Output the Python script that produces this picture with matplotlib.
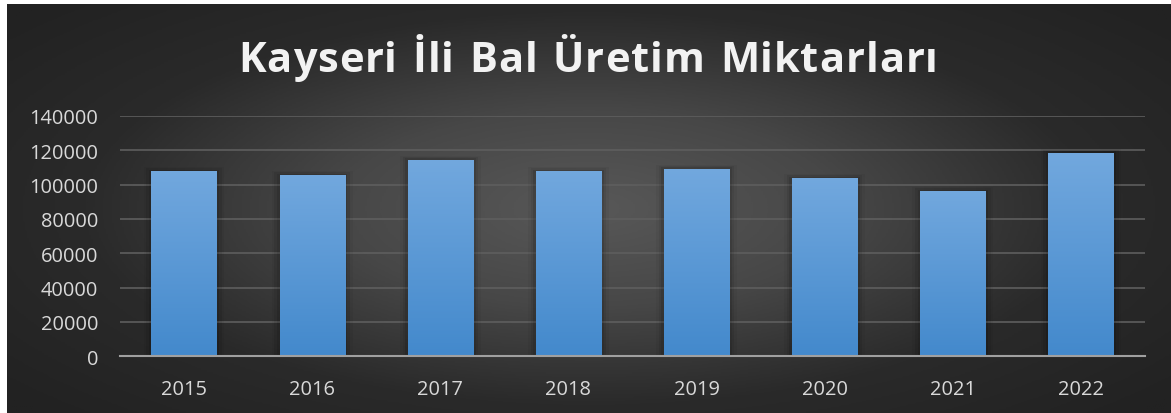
import numpy as np
import matplotlib.pyplot as plt
from matplotlib.colors import LinearSegmentedColormap

# --- Veriler ---
years = ["2015", "2016", "2017", "2018", "2019", "2020", "2021", "2022"]
honey = [108000, 105700, 114500, 108000, 109200, 103900, 96300, 118600]
y_ticks = [0, 20000, 40000, 60000, 80000, 100000, 120000, 140000]
title = "Kayseri İli Bal Üretim Miktarları"

W, H = 1171, 414
fig = plt.figure(figsize=(W / 100, H / 100), dpi=100)
fig.patch.set_facecolor("white")

# radial gradient background (white strip on top/left like the screenshot)
bg = fig.add_axes([7 / W, 0, 1 - 7 / W, 1 - 5 / H])
bg.set_axis_off()
xx, yy = np.meshgrid(np.linspace(-1, 1, 600), np.linspace(-1, 1, 220))
r = np.clip(np.sqrt(xx ** 2 + (yy * 0.9) ** 2), 0, 1.3)
bg_cmap = LinearSegmentedColormap.from_list("bg", ["#585858", "#474747", "#2a2a2a", "#222222"])
bg.imshow(r, cmap=bg_cmap, vmin=0, vmax=1.3, aspect="auto", extent=[0, 1, 0, 1])

ax = fig.add_axes([120 / W, 1 - 357.3 / H, (1145 - 120) / W, (357.3 - 117) / H])
ax.set_facecolor("none")
x = np.arange(len(years))
bars = ax.bar(x, honey, width=0.51, color="#5b9bd5", zorder=3)

# gradient fill + soft shadow for bars
grad = np.linspace(0, 1, 256).reshape(-1, 1)
bar_cmap = LinearSegmentedColormap.from_list("bar", ["#4389cc", "#72a8de"])
for b in bars:
    bx, bw, bh = b.get_x(), b.get_width(), b.get_height()
    for k, a in enumerate([0.10, 0.07, 0.04]):
        d = 0.02 * (k + 1)
        ax.add_patch(plt.Rectangle((bx - d, 0), bw + 2 * d, bh + 800 * (k + 1),
                                   color="black", alpha=a, zorder=2, lw=0))
    im = ax.imshow(grad, cmap=bar_cmap, aspect="auto", origin="lower",
                   extent=[bx, bx + bw, 0, bh], zorder=3)
    im.set_clip_path(b)

ax.set_xlim(-0.5, len(years) - 0.5)
ax.set_ylim(0, 140000)
ax.set_yticks(y_ticks)
ax.set_yticklabels([str(t) for t in y_ticks])
ax.set_xticks(x)
ax.set_xticklabels(years)
ax.grid(axis="y", color="#5e5e5e", lw=1.2, zorder=1)
for s in ["top", "right", "left"]:
    ax.spines[s].set_visible(False)
ax.spines["bottom"].set_color("#a0a0a0")
ax.spines["bottom"].set_linewidth(1.5)
ax.spines["bottom"].set_zorder(4)
ax.tick_params(length=0, colors="#d9d9d9", labelsize=14.4)
ax.tick_params(axis="x", pad=16.5)
ax.tick_params(axis="y", pad=15.8)
for lab in ax.get_xticklabels() + ax.get_yticklabels():
    lab.set_fontfamily("Open Sans")

# title with letter spacing: place characters one by one
renderer = fig.canvas.get_renderer()
title_kw = dict(color="#f2f2f2", fontsize=30, fontweight="bold", family="Open Sans",
                va="baseline", ha="left")
widths = []
for ch in title:
    t = fig.text(0, 0, ch if ch != " " else "n", **title_kw)
    w = t.get_window_extent(renderer).width
    if ch == " ":
        w *= 0.5
    widths.append(w)
    t.remove()
target = 938 - 238
extra = (target - sum(widths)) / (len(title) - 1)
xpos = 238
base_y = 1 - 71.7 / H
for ch, w in zip(title, widths):
    if ch != " ":
        fig.text(xpos / W, base_y, ch, **title_kw)
    xpos += w + extra

fig.savefig("out.png", dpi=100)
